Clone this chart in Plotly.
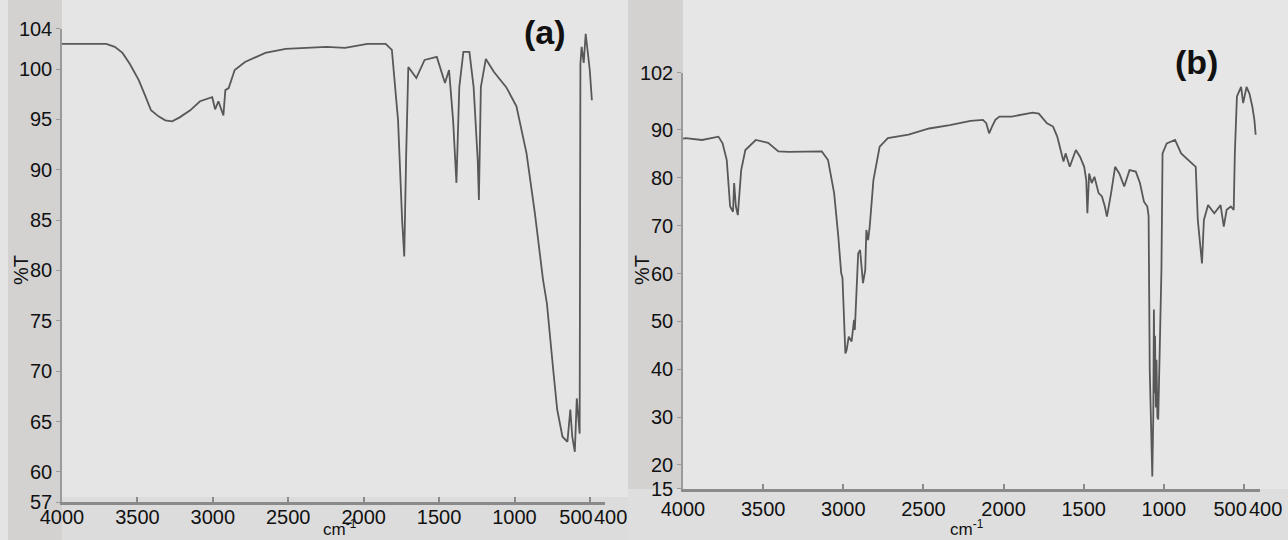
import plotly.graph_objects as go

# ---------------- data ----------------
wn_a = [4000, 3951, 3707, 3650, 3599, 3550, 3491, 3450, 3410, 3360, 3315, 3270, 3220, 3150,
        3085, 3004, 2985, 2963, 2930, 2917, 2895, 2855, 2787, 2652, 2517, 2246, 2124, 1975,
        1854, 1813, 1772, 1745, 1731, 1718, 1704, 1651, 1596, 1515, 1488, 1461, 1434, 1407,
        1385, 1366, 1339, 1299, 1271, 1244, 1236, 1223, 1190, 1136, 1055, 987, 920, 865, 811,
        785, 743, 717, 682, 649, 630, 617, 600, 587, 568, 563, 555, 541, 528, 514, 501, 487]
t_a = [102.5, 102.5, 102.5, 102.2, 101.6, 100.5, 98.9, 97.4, 95.9, 95.3, 94.9, 94.8, 95.2, 95.9,
       96.8, 97.2, 96.0, 96.8, 95.4, 97.9, 98.1, 99.9, 100.7, 101.6, 102.0, 102.2, 102.1, 102.5,
       102.5, 101.9, 94.9, 85.0, 81.4, 91.6, 100.2, 99.1, 100.9, 101.2, 99.9, 98.6, 99.9, 94.9,
       88.7, 98.2, 101.7, 101.7, 98.2, 91.0, 87.0, 98.2, 101.0, 99.7, 98.2, 96.3, 91.6, 85.7, 79.1,
       76.7, 70.1, 66.2, 63.5, 63.0, 66.2, 63.5, 62.0, 67.3, 63.8, 100.5, 102.2, 100.6, 103.5, 101.6, 99.9, 96.9]

wn_b = [4000, 3984, 3881, 3779, 3753, 3727, 3706, 3688, 3681, 3670, 3658, 3637, 3611, 3546,
        3469, 3405, 3340, 3134, 3095, 3057, 3031, 3013, 3005, 2998, 2987, 2979, 2966, 2948,
        2933, 2928, 2907, 2895, 2884, 2877, 2863, 2856, 2845, 2835, 2812, 2773, 2722, 2593,
        2464, 2335, 2206, 2129, 2108, 2090, 2072, 2051, 2026, 1948, 1819, 1780, 1729, 1691,
        1665, 1639, 1626, 1613, 1587, 1549, 1523, 1497, 1484, 1477, 1466, 1450, 1433, 1407,
        1386, 1368, 1355, 1329, 1304, 1278, 1247, 1214, 1175, 1149, 1124, 1103, 1095, 1088,
        1080, 1072, 1066, 1062, 1058, 1055, 1050, 1046, 1040, 1035, 1015, 1008, 982, 930, 892,
        827, 801, 788, 762, 750, 724, 685, 646, 626, 608, 582, 564, 557, 544, 518, 505, 484,
        466, 448, 435, 427]
t_b = [88.2, 88.3, 87.9, 88.6, 87.2, 83.7, 74.0, 72.9, 78.9, 74.0, 72.2, 81.6, 85.8, 87.9,
       87.3, 85.5, 85.4, 85.5, 83.7, 76.8, 67.7, 60.1, 59.1, 53.8, 43.3, 44.0, 46.8, 45.8,
       50.3, 48.2, 64.2, 64.9, 60.1, 58.0, 60.7, 69.1, 67.0, 69.8, 79.5, 86.5, 88.3, 89.0,
       90.3, 91.0, 91.9, 92.1, 91.4, 89.3, 90.7, 92.1, 92.8, 92.8, 93.6, 93.4, 91.4, 90.7,
       88.6, 85.1, 83.4, 85.1, 82.3, 85.8, 84.4, 82.3, 79.5, 72.6, 80.9, 78.9, 80.2, 76.8,
       76.1, 74.0, 71.9, 76.8, 82.3, 80.9, 78.2, 81.6, 81.3, 78.9, 75.0, 74.0, 72.0, 40.0,
       25.0, 17.6, 30.0, 52.5, 35.0, 47.0, 32.0, 42.0, 30.0, 29.5, 60.7, 85.1, 87.2, 87.9, 85.1,
       83.0, 82.3, 71.2, 62.1, 71.2, 74.3, 72.6, 74.3, 69.8, 73.3, 74.0, 73.3, 85.1, 97.0, 99.0, 95.6, 99.0,
       97.6, 94.9, 92.1, 89.0]

x_ticks = [4000, 3500, 3000, 2500, 2000, 1500, 1000, 500, 400]
x_tick_labels = ["4000", "3500", "3000", "2500", "2000", "1500", "1000", "500", "400"]
y_ticks_a = [57, 60, 65, 70, 75, 80, 85, 90, 95, 100, 104]
y_ticks_b = [15, 20, 30, 40, 50, 60, 70, 80, 90, 102]

assert len(wn_a) == len(t_a), (len(wn_a), len(t_a))
assert len(wn_b) == len(t_b), (len(wn_b), len(t_b))

# ---------------- layout helpers ----------------
W, H = 1288, 540
def px(x):
    return x / W
def py(y):
    return 1 - y / H

NB = "\u00a0"
pad = {"500": (0, 5), "400": (2, 0)}
def lab(t):
    l, r = pad.get(t, (0, 0))
    return NB * l + t + NB * r
x_text = [lab(t) for t in x_tick_labels]

FONT = "Arial, Liberation Sans, sans-serif"
LINE = dict(color="#585858", width=1.8)

fig = go.Figure()
fig.add_trace(go.Scatter(x=wn_a, y=t_a, mode="lines", line=LINE, xaxis="x", yaxis="y",
                         showlegend=False, hoverinfo="skip"))
fig.add_trace(go.Scatter(x=wn_b, y=t_b, mode="lines", line=LINE, xaxis="x2", yaxis="y2",
                         showlegend=False, hoverinfo="skip"))

xcommon = dict(tickvals=x_ticks, ticktext=x_text, ticks="inside", ticklen=5, tickcolor="#8a8a8a",
               tickwidth=1.5, showline=True, linecolor="#8a8a8a", linewidth=2.5, showgrid=False,
               zeroline=False, tickangle=0, tickfont=dict(family=FONT, size=20, color="#111"),
               fixedrange=True, automargin=False)
ycommon = dict(ticks="outside", ticklen=4, tickcolor="#9a9a9a", tickwidth=1, showline=True,
               linecolor="#9a9a9a", linewidth=1.5, showgrid=False, zeroline=False,
               tickfont=dict(family=FONT, size=20, color="#111"), fixedrange=True, automargin=False)

fig.update_layout(
    width=W, height=H, autosize=False,
    margin=dict(l=0, r=0, t=0, b=0, pad=0, autoexpand=False),
    paper_bgcolor="#d3d2d1", plot_bgcolor="rgba(0,0,0,0)",
    xaxis=dict(domain=[px(62), px(605)], range=[4000, 400], anchor="y", ticklabelstandoff=-5, **xcommon),
    yaxis=dict(domain=[py(502.2), py(28.7)], range=[57, 104], tickvals=y_ticks_a, anchor="x", **ycommon),
    xaxis2=dict(domain=[px(683), px(1260)], range=[4000, 400], anchor="y2", **xcommon),
    yaxis2=dict(domain=[py(488.9), py(72.5)], range=[15, 102], tickvals=y_ticks_b, anchor="x2", **ycommon),
    shapes=[
        dict(type="rect", xref="paper", yref="paper", x0=0, x1=px(8), y0=0, y1=1,
             fillcolor="#e4e4e4", line_width=0, layer="below"),
        dict(type="rect", xref="paper", yref="paper", x0=px(62), x1=px(628), y0=py(497), y1=1,
             fillcolor="#e5e5e5", line_width=0, layer="below"),
        dict(type="rect", xref="paper", yref="paper", x0=px(62), x1=px(628), y0=0, y1=py(497),
             fillcolor="#dcdcdc", line_width=0, layer="below"),
        dict(type="rect", xref="paper", yref="paper", x0=px(683), x1=1, y0=py(489), y1=1,
             fillcolor="#e6e6e6", line_width=0, layer="below"),
        dict(type="rect", xref="paper", yref="paper", x0=px(628), x1=1, y0=0, y1=py(489),
             fillcolor="#dedede", line_width=0, layer="below"),
    ],
    annotations=[
        dict(text="<b>(a)</b>", x=px(545), y=py(32), xref="paper", yref="paper", showarrow=False,
             xanchor="center", yanchor="middle", font=dict(family=FONT, size=34, color="#111")),
        dict(text="<b>(b)</b>", x=px(1196), y=py(62), xref="paper", yref="paper", showarrow=False,
             xanchor="center", yanchor="middle", font=dict(family=FONT, size=34, color="#111")),
        dict(text="%T", x=px(21), y=py(270), xref="paper", yref="paper", showarrow=False,
             textangle=-90, xanchor="center", yanchor="middle", font=dict(family=FONT, size=20, color="#111")),
        dict(text="%T", x=px(642), y=py(270), xref="paper", yref="paper", showarrow=False,
             textangle=-90, xanchor="center", yanchor="middle", font=dict(family=FONT, size=20, color="#111")),
        dict(text="cm<sup>-1</sup>", x=px(340), y=py(528), xref="paper", yref="paper", showarrow=False,
             xanchor="center", yanchor="middle", font=dict(family=FONT, size=17, color="#111")),
        dict(text="cm<sup>-1</sup>", x=px(967), y=py(528), xref="paper", yref="paper", showarrow=False,
             xanchor="center", yanchor="middle", font=dict(family=FONT, size=17, color="#111")),
    ],
)

fig.write_html("out.html", config={"displayModeBar": False},
               post_script="document.body.style.margin='0';document.body.style.overflow='hidden';")
